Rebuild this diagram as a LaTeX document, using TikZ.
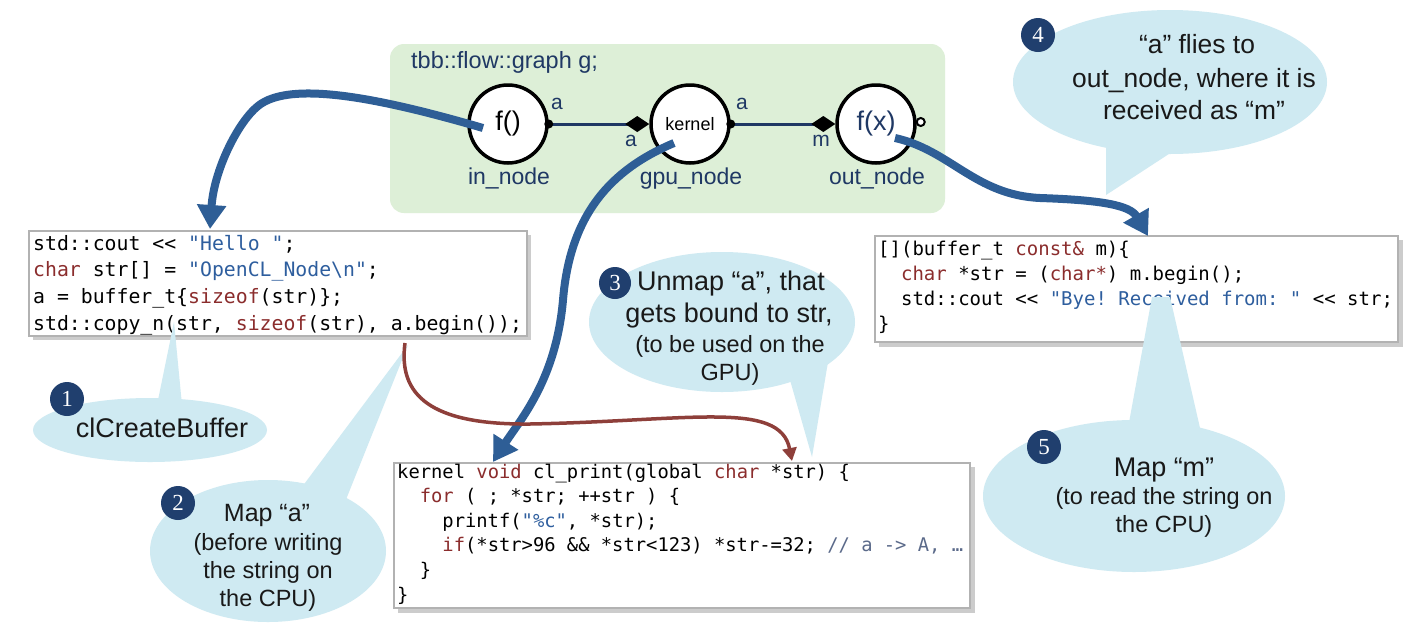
\documentclass[tikz,border=0pt]{standalone}
\usepackage{fontspec}
\setmainfont{Liberation Sans}
\setmonofont{DejaVu Sans Mono}
\newfontfamily\numfont{Liberation Serif}
\usetikzlibrary{arrows.meta,calc}
\definecolor{navy}{HTML}{1F3864}
\definecolor{arrowblue}{HTML}{2E5E96}
\definecolor{bubble}{HTML}{CFEAF2}
\definecolor{graphgreen}{HTML}{DDEFD7}
\definecolor{numblue}{HTML}{203F6E}
\definecolor{kw}{HTML}{8B2D2D}
\definecolor{strc}{HTML}{2E5E9E}
\definecolor{cmt}{HTML}{5B6A8A}
\definecolor{brownarrow}{HTML}{8E3F3A}
\newcommand{\fsz}[2]{\fontsize{#1}{#2}\selectfont}
\tikzset{
  gnode/.style={circle, draw=black, line width=3.5pt, fill=white, minimum size=78pt, inner sep=0pt},
  glabel/.style={text=navy, font=\fsz{23}{27}, anchor=base, inner sep=0pt},
  portlbl/.style={text=navy, font=\fsz{21}{25}, inner sep=0pt},
  codeL/.style={anchor=base west, inner sep=0pt, font=\ttfamily\fsz{19.8}{24}},
  codeR/.style={anchor=base west, inner sep=0pt, font=\ttfamily\fsz{19}{24}},
  codeK/.style={anchor=base west, inner sep=0pt, font=\ttfamily\fsz{18.8}{24}},
  codebox/.style={fill=white, draw=gray!60, line width=1.2pt},
  codeshadow/.style={fill=gray!40, draw=none},
  bubblefill/.style={fill=bubble, draw=none},
  numcircle/.style={circle, fill=numblue, text=white, minimum size=34pt, inner sep=0pt, font=\numfont\fsz{23}{23}},
  bbig/.style={anchor=base, inner sep=0pt, text=black!90, font=\fsz{27}{32}},
  bsmall/.style={anchor=base, inner sep=0pt, text=black!90, font=\fsz{23.5}{28}},
  bigarrow/.style={draw=arrowblue, line width=8pt, -{Triangle[length=24pt,width=28pt]}},
  redarrow/.style={draw=brownarrow, line width=3.5pt, -{Triangle[length=13pt,width=14pt]}},
  gedge/.style={draw=navy, line width=3pt, -{Diamond[length=24pt,width=16pt,color=black]}},
}
\begin{document}
\begin{tikzpicture}[x=1pt,y=-1pt]
\useasboundingbox (0,0) rectangle (1425,638);
\fill[white] (0,0) rectangle (1425,638);

% flow graph panel
\fill[graphgreen, rounded corners=14pt] (390,44) rectangle (945,213);
\node[anchor=base west, inner sep=0pt, text=navy, font=\fsz{23.5}{28}] (title) at (411,68) {tbb::flow::graph g;};

\node[gnode, font=\fsz{27}{30}] (in) at (508,124) {f()};
\node[gnode, font=\fsz{18}{22}] (gpu) at (690,124) {kernel};
\node[gnode, font=\fsz{27}{30}, text=navy] (out) at (876,124) {f(x)};
\node[glabel] (inlbl) at (509,184) {in\_node};
\node[glabel] (gpulbl) at (691,184) {gpu\_node};
\node[glabel] (outlbl) at (877,184) {out\_node};

\draw[gedge] (in.east) -- (gpu.west);
\draw[gedge] (gpu.east) -- (out.west);
\fill[black] (in.east) circle[radius=4.5pt];
\fill[black] (gpu.east) circle[radius=4.5pt];
\draw[black, line width=2pt, fill=white] ($(out.east)+(4,-2)$) circle[radius=4pt];
\node[portlbl] (a1) at (557,104) {a};
\node[portlbl] (a2) at (631,141) {a};
\node[portlbl] (a3) at (742,104) {a};
\node[portlbl] (m1) at (821,141) {m};

% code boxes
\fill[codeshadow] (33,235) rectangle (531,340);
\draw[codebox] (29,231) rectangle (527,336);
\node[codeL] (L1) at (33,250) {std::cout << \textcolor{strc}{"Hello "};};
\node[codeL] (L2) at (33,276.7) {\textcolor{kw}{char} str[] = \textcolor{strc}{"OpenCL\_Node\textbackslash n"};};
\node[codeL] (L3) at (33,303.4) {a = buffer\_t\{\textcolor{kw}{sizeof}(str)\};};
\node[codeL] (L4) at (33,330) {std::copy\_n(str, \textcolor{kw}{sizeof}(str), a.begin());};

\fill[codeshadow] (879,240) rectangle (1403,347);
\draw[codebox] (875,236) rectangle (1398,342);
\node[codeR] (R1) at (878,255) {{[]}(buffer\_t \textcolor{kw}{const\&} m)\{};
\node[codeR] (R2) at (878,280) {\phantom{xx}\textcolor{kw}{char} *str = (\textcolor{kw}{char*}) m.begin();};
\node[codeR] (R3) at (878,305) {\phantom{xx}std::cout << \textcolor{strc}{"Bye! Received from: "} << str;};
\node[codeR] (R4) at (878,330) {\}};

\fill[codeshadow] (398,467) rectangle (975,613);
\draw[codebox] (394,463) rectangle (970,608);
\node[codeK] (K1) at (397,478) {kernel \textcolor{kw}{void} cl\_print(global \textcolor{kw}{char} *str) \{};
\node[codeK] (K2) at (397,502.6) {\phantom{xx}\textcolor{kw}{for} ( ; *str; ++str ) \{};
\node[codeK] (K3) at (397,527.2) {\phantom{xxxx}printf(\textcolor{strc}{"\%c"}, *str);};
\node[codeK] (K4) at (397,551.8) {\phantom{xxxx}\textcolor{kw}{if}(*str>96 \&\& *str<123) *str-=32; \textcolor{cmt}{// a -> A, …}};
\node[codeK] (K5) at (397,576.4) {\phantom{xx}\}};
\node[codeK] (K6) at (397,601) {\}};

% bubbles
\fill[bubblefill] (150,430) ellipse[x radius=117, y radius=32];
\fill[bubblefill] (157,405) -- (182,405) -- (174,322) -- cycle;
\fill[bubblefill] (268,551) ellipse[x radius=118, y radius=71];
\fill[bubblefill] (296,495) -- (345,502) -- (408,345) -- cycle;
\fill[bubblefill] (722,322) ellipse[x radius=133, y radius=70];
\fill[bubblefill] (790,380) -- (828,362) -- (812,457) -- cycle;
\fill[bubblefill] (1170,82) ellipse[x radius=157, y radius=72];
\fill[bubblefill] (1106,140) -- (1175,150) -- (1106,195) -- cycle;
\fill[bubblefill] (1134,496) ellipse[x radius=151, y radius=76];
\fill[bubblefill] (1128,428) -- (1200,428) -- (1170,297) -- (1152,297) -- cycle;

\node[bbig] (t1) at (162,437) {clCreateBuffer};
\node[bbig, font=\fsz{25}{30}] (t2a) at (267,521) {Map “a”};
\node[bsmall] (t2b) at (268,550) {(before writing};
\node[bsmall] (t2c) at (268,578) {the string on};
\node[bsmall] (t2d) at (268,606) {the CPU)};
\node[bbig] (t3a) at (731,290) {Unmap “a”, that};
\node[bbig] (t3b) at (729,322) {gets bound to str,};
\node[bsmall] (t3c) at (730,352) {(to be used on the};
\node[bsmall] (t3d) at (730,380) {GPU)};
\node[bbig, font=\fsz{26.4}{32}] (t4a) at (1197,53) {“a” flies to};
\node[bbig, font=\fsz{26.4}{32}] (t4b) at (1194,87) {out\_node, where it is};
\node[bbig, font=\fsz{26.4}{32}] (t4c) at (1194,119) {received as “m”};
\node[bbig] (t5a) at (1164,476) {Map “m”};
\node[bsmall] (t5b) at (1164,504) {(to read the string on};
\node[bsmall] (t5c) at (1164,532) {the CPU)};

% arrows
\coordinate (sA) at (483,128);
\coordinate (eA) at (210,229);
\coordinate (sB) at (674,143);
\coordinate (eB) at (493,462);
\coordinate (sC) at (895,138);
\coordinate (eC) at (1148,236);
\coordinate (sR) at (405,343);
\coordinate (eR) at (792,461);
\draw[bigarrow] (sA) .. controls (380,98) and (290,80) .. (258,106) .. controls (238,122) and (214,170) .. (eA);
\draw[bigarrow] (sB) .. controls (610,170) and (570,215) .. (563,300) .. controls (556,380) and (520,420) .. (eB);
\draw[bigarrow] (sC) .. controls (950,150) and (975,195) .. (1040,198) .. controls (1100,200) and (1130,205) .. (eC);
\draw[redarrow] (sR) .. controls (398,395) and (430,425) .. (530,424) .. controls (690,421) and (780,400) .. (eR);

% number badges
\node[numcircle] (n1) at (67,399) {1};
\node[numcircle] (n2) at (178,503) {2};
\node[numcircle, minimum size=32pt] (n3) at (615,283) {3};
\node[numcircle] (n4) at (1038,35) {4};
\node[numcircle] (n5) at (1044,447) {5};
\end{tikzpicture}
\end{document}
